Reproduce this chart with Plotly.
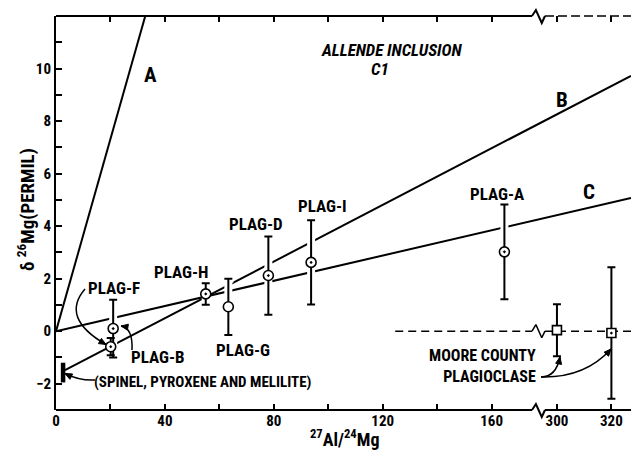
import numpy as np
import plotly.graph_objects as go

# ---------------- data ----------------
plag_names = ["PLAG-F", "PLAG-B", "PLAG-H", "PLAG-G", "PLAG-D", "PLAG-I", "PLAG-A"]
plag_al_mg = [21.0, 20.1, 55.0, 63.3, 78.0, 93.7, 164.7]
plag_delta = [0.10, -0.59, 1.42, 0.93, 2.12, 2.62, 3.02]
plag_err = [1.10, 0.33, 0.41, 1.07, 1.49, 1.60, 1.80]
plag_dotted = [True, True, True, False, True, True, True]

moore_al_mg = [300, 320]
moore_delta = [0.04, -0.07]
moore_err = [0.99, 2.50]
moore_dotted = [False, True]

spinel_al_mg = [2.6, 2.6]
spinel_delta = [-1.20, -1.95]

line_labels = ["A", "B", "C"]
line_slopes = [0.366, 0.0539, 0.0240]
line_intercepts = [0.0, -1.66, 0.0]
line_x_start = [0.0, 3.3, 0.0]

x_tick_values = [0, 40, 80, 120, 160, 300, 320]
x_tick_labels = ["0", "40", "80", "120", "160", "300", "320"]
x_minor_tick_values = [20, 60, 100, 140]
y_tick_values = [-2, 0, 2, 4, 6, 8, 10]
y_minor_tick_values = [-1, 1, 3, 5, 7, 9, 11]

# ---------------- broken-axis helpers ----------------
BREAK_OFFSET = 116          # values >= 300 are drawn shifted left by this
X_MAX = 211.2               # displayed right end
Y_MIN, Y_MAX = -3, 12
W, H = 631, 450
ML, MR, MT, MB = 56, 0, 16, 40
PW, PH = W - ML - MR, H - MT - MB


def disp(v):
    return v - BREAK_OFFSET if v >= 200 else v


def px(xp):   # pixel x -> paper
    return (xp - ML) / PW


def py(yp):   # pixel y -> paper
    return (H - MB - yp) / PH


FONT = "Roboto Condensed, DejaVu Sans Condensed, sans-serif"
BOLD = dict(family=FONT, color="black", weight="bold")

fig = go.Figure()

# isochron lines
xs_full = np.linspace(0, X_MAX, 200)
for lab, m, b, x0 in zip(line_labels, line_slopes, line_intercepts, line_x_start):
    xs = np.concatenate([[x0], xs_full[xs_full > x0]])
    fig.add_trace(go.Scatter(x=xs, y=m * xs + b, mode="lines", name=lab,
                             line=dict(color="black", width=2), hoverinfo="skip",
                             showlegend=False))

# Moore County reference (dashed zero line with break zigzag)
x_zero_start = 124.6
brk0, brk1 = (532 - ML) / PW * X_MAX, (545 - ML) / PW * X_MAX
for xa, xb in [(x_zero_start, brk0), (brk1, X_MAX)]:
    fig.add_trace(go.Scatter(x=[xa, xb], y=[0, 0], mode="lines",
                             line=dict(color="black", width=1.5, dash="8px,5px"),
                             showlegend=False, hoverinfo="skip"))
zz = brk1 - brk0
fig.add_trace(go.Scatter(x=[brk0, brk0 + 0.3 * zz, brk0 + 0.75 * zz, brk1],
                         y=[0, 0.25, -0.25, 0], mode="lines",
                         line=dict(color="black", width=1.5),
                         showlegend=False, hoverinfo="skip"))

# spinel / pyroxene / melilite bar
fig.add_trace(go.Scatter(x=spinel_al_mg, y=spinel_delta, mode="lines",
                         line=dict(color="black", width=4.5),
                         showlegend=False, hoverinfo="skip"))

# white halo under plagioclase error bars (breaks the lines, as in the original)
fig.add_trace(go.Scatter(x=plag_al_mg, y=plag_delta, mode="markers",
                         marker=dict(size=1, color="rgba(0,0,0,0)"),
                         error_y=dict(type="data", array=plag_err, color="white",
                                      thickness=8, width=5),
                         showlegend=False, hoverinfo="skip"))
fig.add_trace(go.Scatter(x=plag_al_mg, y=plag_delta, mode="markers",
                         marker=dict(size=1, color="rgba(0,0,0,0)"),
                         error_y=dict(type="data", array=plag_err, color="black",
                                      thickness=2, width=4),
                         showlegend=False, hoverinfo="skip"))
moore_disp = [disp(v) for v in moore_al_mg]
fig.add_trace(go.Scatter(x=moore_disp, y=moore_delta, mode="markers",
                         marker=dict(size=1, color="rgba(0,0,0,0)"),
                         error_y=dict(type="data", array=moore_err, color="black",
                                      thickness=2, width=4),
                         showlegend=False, hoverinfo="skip"))

# markers: white fill + open outline (with dot where applicable)
fig.add_trace(go.Scatter(x=plag_al_mg, y=plag_delta, mode="markers",
                         marker=dict(symbol="circle", size=10, color="white"),
                         showlegend=False, hoverinfo="skip"))
fig.add_trace(go.Scatter(x=plag_al_mg, y=plag_delta, mode="markers",
                         marker=dict(symbol=["circle-open-dot" if d else "circle-open"
                                             for d in plag_dotted],
                                     size=10, color="black", line=dict(width=1.6)),
                         text=plag_names, showlegend=False))
fig.add_trace(go.Scatter(x=moore_disp, y=moore_delta, mode="markers",
                         marker=dict(symbol="square", size=9, color="white"),
                         showlegend=False, hoverinfo="skip"))
fig.add_trace(go.Scatter(x=moore_disp, y=moore_delta, mode="markers",
                         marker=dict(symbol=["square-open-dot" if d else "square-open"
                                             for d in moore_dotted],
                                     size=9, color="black", line=dict(width=1.6)),
                         showlegend=False))

# ---------------- axes frame (with breaks) ----------------
shapes = []
bx0, bx1 = px(532), px(545)
bw = bx1 - bx0
up, dn = 6 / PH, 7 / PH
for yline, solid in [(0, True), (1, False)]:
    shapes.append(dict(type="line", xref="paper", yref="paper", x0=0, x1=bx0,
                       y0=yline, y1=yline, line=dict(color="black", width=2)))
    shapes.append(dict(type="path", xref="paper", yref="paper",
                       path=f"M {bx0},{yline} L {bx0 + 0.3 * bw},{yline + up} "
                            f"L {bx0 + 0.75 * bw},{yline - dn} L {bx1},{yline}",
                       line=dict(color="black", width=2)))
    shapes.append(dict(type="line", xref="paper", yref="paper", x0=bx1, x1=1,
                       y0=yline, y1=yline,
                       line=dict(color="black", width=2 if solid else 1.5,
                                 dash="solid" if solid else "9px,4px")))


# ---------------- curved pointer arrows (curve + filled head) ----------------
def curve(p0, c, p2, head_len=7.0, head_half=3.0):
    shapes.append(dict(type="path", xref="paper", yref="paper",
                       path=f"M {px(p0[0])},{py(p0[1])} Q {px(c[0])},{py(c[1])} {px(p2[0])},{py(p2[1])}",
                       line=dict(color="black", width=1.5)))
    tip = np.array(p2, float)
    d = tip - np.array(c, float)
    d = d / np.linalg.norm(d)
    n = np.array([-d[1], d[0]])
    base = tip - head_len * d
    l, r = base + head_half * n, base - head_half * n
    shapes.append(dict(type="path", xref="paper", yref="paper",
                       path=f"M {px(tip[0])},{py(tip[1])} L {px(l[0])},{py(l[1])} "
                            f"L {px(r[0])},{py(r[1])} Z",
                       fillcolor="black", line=dict(color="black", width=1)))


curve((85, 289), (60, 318), (106, 344.5))
curve((132, 350), (133, 328), (121, 326))
curve((95, 380), (80, 381), (65, 373.5))
curve((541, 377), (556, 377), (560, 357))
curve((541, 377), (585, 378), (611, 349))

# ---------------- text labels ----------------
annots = []


def label(text, xp, yp, size=16, italic=False, xanchor="center", align="center"):
    annots.append(dict(x=px(xp), y=py(yp), xref="paper", yref="paper", text=text,
                       showarrow=False, xanchor=xanchor, yanchor="middle", align=align,
                       font=dict(family=FONT, size=size, color="black", weight="bold",
                                 style="italic" if italic else "normal")))


label("ALLENDE INCLUSION", 391, 50, 17, italic=True)
label("C1", 380, 69, 17, italic=True)
label("A", 150, 75, 21)
label("B", 562, 100, 21)
label("C", 589, 192, 21)
for name, (xp, yp) in zip(plag_names, [(113.5, 288), (157.5, 356.5), (181, 271.5),
                                       (242.5, 349.5), (256, 224), (322, 205.5),
                                       (497, 194)]):
    label(name, xp, yp, 17)
label("MOORE COUNTY<br>PLAGIOCLASE", 538, 366, 16, xanchor="right", align="right")
label("(SPINEL, PYROXENE AND MELILITE)", 203, 382, 15)

# axis titles
annots.append(dict(x=px(26), y=py(210), xref="paper", yref="paper",
                   xanchor="center", yanchor="middle",
                   text="δ <sup>26</sup>Mg(PERMIL)", textangle=-90, showarrow=False,
                   font=dict(family=FONT, size=19, color="black", weight="bold")))
annots.append(dict(x=px(344), y=py(438), xref="paper", yref="paper",
                   xanchor="center", yanchor="middle",
                   text="<sup>27</sup>Al/<sup>24</sup>Mg", showarrow=False,
                   font=dict(family=FONT, size=18, color="black", weight="bold")))

fig.update_layout(
    width=W, height=H, margin=dict(l=ML, r=MR, t=MT, b=MB, pad=0),
    paper_bgcolor="white", plot_bgcolor="white", showlegend=False,
    shapes=shapes, annotations=annots,
    xaxis=dict(range=[0, X_MAX], tickmode="array",
               tickvals=[disp(v) for v in x_tick_values], ticktext=x_tick_labels,
               ticks="inside", ticklen=6, tickwidth=1.5, tickcolor="black",
               minor=dict(tickmode="array", tickvals=x_minor_tick_values,
                          ticks="inside", ticklen=6, tickwidth=1.5, tickcolor="black",
                          showgrid=False),
               showline=False, mirror="ticks", showgrid=False,
               zeroline=False, tickfont=dict(size=15, **BOLD)),
    yaxis=dict(range=[Y_MIN, Y_MAX], tickmode="array", tickvals=y_tick_values,
               ticks="inside", ticklen=6, tickwidth=1.5, tickcolor="black",
               minor=dict(tickmode="array", tickvals=y_minor_tick_values,
                          ticks="inside", ticklen=6, tickwidth=1.5, tickcolor="black",
                          showgrid=False),
               showline=True, linewidth=2, linecolor="black", showgrid=False,
               zeroline=False, tickfont=dict(size=15, **BOLD)),
)

fig.write_html("out.html", config={"displayModeBar": False},
               post_script="document.body.style.margin='0px';")
